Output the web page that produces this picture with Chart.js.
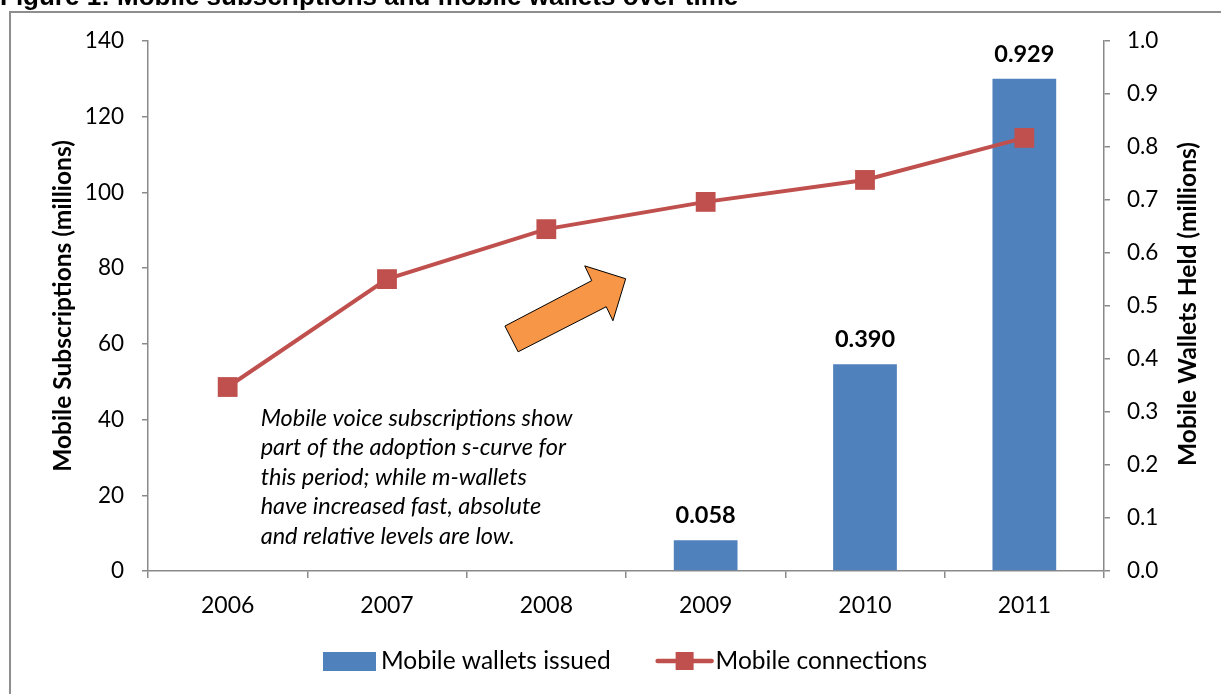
<!DOCTYPE html>
<html>
<head>
<meta charset="utf-8">
<script src="https://cdn.jsdelivr.net/npm/chart.js@4.4.1/dist/chart.umd.min.js"></script>
<style>
  html, body { margin: 0; padding: 0; background: #ffffff; }
  #wrap { position: relative; width: 1221px; height: 694px; overflow: hidden; }
  #frame { position: absolute; left: 9px; top: 11px; width: 1400px; height: 900px;
           border-left: 2px solid #8e8e8e; border-top: 2px solid #8e8e8e; }
  canvas { position: absolute; left: 0; top: 0; }
</style>
</head>
<body>
<div id="wrap">
  <div id="frame"></div>
  <canvas id="chart" width="1221" height="694"></canvas>
</div>
<script>
// Years on the category axis
const years = ['2006', '2007', '2008', '2009', '2010', '2011'];
// Mobile wallets issued (millions, right axis)
const walletsIssued = [null, null, null, 0.058, 0.390, 0.929];
// Mobile connections (millions, left axis)
const mobileConnections = [48.6, 77.1, 90.3, 97.5, 103.3, 114.4];
// Axis ranges
const leftAxisRange = [0, 140, 20];
const rightAxisRange = [0, 1.0, 0.1];

const figureTitle = 'Figure 1: Mobile subscriptions and mobile wallets over time';
const leftAxisTitle = 'Mobile Subscriptions (millions)';
const rightAxisTitle = 'Mobile Wallets Held (millions)';
const noteLines = [
  'Mobile voice subscriptions show',
  'part of the adoption s-curve for',
  'this period; while m-wallets',
  'have increased fast, absolute',
  'and relative levels are low.'
];

const AXIS_GREY = '#8a8a8a';
const BAR_BLUE = '#4f81bd';
const LINE_RED = '#c0504d';
const ARROW_ORANGE = '#f79646';
const FONT = 'Lato, "Noto Sans", sans-serif';

// Annotation layer: bar value labels, note, arrow, right axis title, legend and heading
const overlay = {
  id: 'overlay',
  afterDatasetsDraw(chart) {
    const ctx = chart.ctx;
    const xs = chart.scales.x;
    const yl = chart.scales.y;
    const area = chart.chartArea;
    ctx.save();

    // value labels above the bars
    ctx.font = 'bold 23.5px ' + FONT;
    ctx.fillStyle = '#000';
    ctx.textAlign = 'center';
    ctx.textBaseline = 'alphabetic';
    chart.getDatasetMeta(0).data.forEach((bar, i) => {
      const v = walletsIssued[i];
      if (v === null) return;
      ctx.fillText(v.toFixed(3), bar.x, bar.y - 17);
    });

    // block arrow, placed in category / left-axis units
    const arrow = [[1.740, 64.7], [1.823, 57.9], [2.376, 69.8], [2.418, 66.1],
                   [2.498, 77.2], [2.241, 80.6], [2.285, 76.7]];
    const step = xs.getPixelForValue(1) - xs.getPixelForValue(0);
    ctx.beginPath();
    arrow.forEach(([c, v], k) => {
      const px = xs.getPixelForValue(0) + c * step;
      const py = yl.getPixelForValue(v);
      if (k === 0) ctx.moveTo(px, py); else ctx.lineTo(px, py);
    });
    ctx.closePath();
    ctx.fillStyle = ARROW_ORANGE;
    ctx.fill();
    ctx.lineWidth = 1;
    ctx.strokeStyle = '#000';
    ctx.stroke();

    // note text
    ctx.font = 'italic 23.5px ' + FONT;
    ctx.fillStyle = '#000';
    ctx.textAlign = 'left';
    ctx.textBaseline = 'middle';
    const noteX = xs.getPixelForValue(0) + 0.207 * step;
    const noteY = yl.getPixelForValue(40.4);
    noteLines.forEach((line, k) => ctx.fillText(line, noteX, noteY + k * 29.5));

    // right axis title, reading upwards
    ctx.save();
    ctx.font = 'bold 24.5px ' + FONT;
    ctx.textAlign = 'center';
    ctx.textBaseline = 'middle';
    ctx.translate(1188, (area.top + area.bottom) / 2 - 2);
    ctx.rotate(-Math.PI / 2);
    ctx.fillText(rightAxisTitle, 0, 0);
    ctx.restore();

    // legend
    const ly = 661;
    let lx = 323;
    ctx.font = '24.5px ' + FONT;
    ctx.textBaseline = 'middle';
    ctx.textAlign = 'left';
    const barSet = chart.data.datasets[0];
    const lineSet = chart.data.datasets[1];
    ctx.fillStyle = barSet.backgroundColor;
    ctx.fillRect(lx, ly - 9, 53, 19);
    lx += 58;
    ctx.fillStyle = '#000';
    ctx.fillText(barSet.label, lx, ly);
    lx += ctx.measureText(barSet.label).width + 45;
    ctx.strokeStyle = lineSet.borderColor;
    ctx.lineWidth = 4.5;
    ctx.lineCap = 'round';
    ctx.beginPath();
    ctx.moveTo(lx + 2, ly);
    ctx.lineTo(lx + 56, ly);
    ctx.stroke();
    ctx.fillStyle = lineSet.pointBackgroundColor;
    ctx.fillRect(lx + 29 - 9, ly - 9, 18, 18);
    lx += 60;
    ctx.fillStyle = '#000';
    ctx.fillText(lineSet.label, lx, ly);

    // figure heading
    ctx.font = 'bold 26px "Liberation Sans", Arial, sans-serif';
    ctx.textAlign = 'left';
    ctx.textBaseline = 'alphabetic';
    ctx.fillText(figureTitle, 0, 5);

    ctx.restore();
  }
};

const tickGrid = {
  display: true,
  drawOnChartArea: false,
  drawTicks: true,
  tickLength: 6,
  color: AXIS_GREY,
  lineWidth: 1.5
};

new Chart(document.getElementById('chart'), {
  data: {
    labels: years,
    datasets: [
      {
        type: 'bar',
        label: 'Mobile wallets issued',
        data: walletsIssued,
        yAxisID: 'y1',
        backgroundColor: BAR_BLUE,
        borderWidth: 0,
        barPercentage: 0.4,
        categoryPercentage: 1.0,
        order: 2
      },
      {
        type: 'line',
        label: 'Mobile connections',
        data: mobileConnections,
        yAxisID: 'y',
        borderColor: LINE_RED,
        borderWidth: 4,
        tension: 0,
        pointStyle: 'rect',
        pointRadius: 14,
        pointBackgroundColor: LINE_RED,
        pointBorderColor: LINE_RED,
        pointBorderWidth: 0,
        order: 1
      }
    ]
  },
  options: {
    responsive: false,
    animation: false,
    events: [],
    layout: { padding: { top: 41, left: 0, right: 0, bottom: 0 } },
    plugins: {
      legend: { display: false },
      tooltip: { enabled: false },
      title: { display: false }
    },
    scales: {
      x: {
        type: 'category',
        offset: true,
        grid: { ...tickGrid, offset: true, tickLength: 7 },
        border: { display: true, color: AXIS_GREY, width: 1.5 },
        ticks: { color: '#000', font: { family: FONT, size: 23 }, padding: 14, maxRotation: 0 },
        afterFit: s => { s.height = 123; }
      },
      y: {
        type: 'linear',
        position: 'left',
        min: leftAxisRange[0],
        max: leftAxisRange[1],
        grid: tickGrid,
        border: { display: true, color: AXIS_GREY, width: 1.5 },
        ticks: { stepSize: leftAxisRange[2], color: '#000', font: { family: FONT, size: 22.5 }, padding: 18 },
        title: {
          display: true,
          text: leftAxisTitle,
          color: '#000',
          font: { family: FONT, size: 24.5, weight: 'bold' },
          padding: { top: 48, bottom: 0 }
        },
        afterFit: s => { s.width = 148; }
      },
      y1: {
        type: 'linear',
        position: 'right',
        min: rightAxisRange[0],
        max: rightAxisRange[1],
        grid: tickGrid,
        border: { display: true, color: AXIS_GREY, width: 1.5 },
        ticks: {
          stepSize: rightAxisRange[2],
          color: '#000',
          font: { family: FONT, size: 22.5 },
          padding: 17,
          callback: v => Number(v).toFixed(1)
        },
        afterFit: s => { s.width = 117; }
      }
    }
  },
  plugins: [overlay]
});
</script>
</body>
</html>
